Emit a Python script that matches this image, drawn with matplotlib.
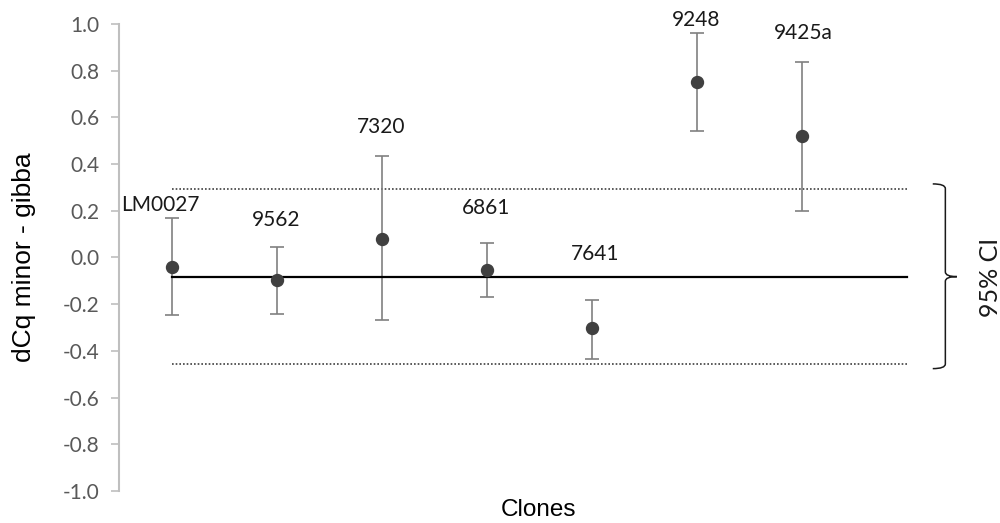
import matplotlib
matplotlib.use("Agg")
import matplotlib.pyplot as plt
from matplotlib.path import Path
from matplotlib.patches import PathPatch
import numpy as np

clones = ["LM0027", "9562", "7320", "6861", "7641", "9248", "9425a"]
values = [-0.04, -0.095, 0.08, -0.055, -0.30, 0.75, 0.52]
err_top = [0.17, 0.045, 0.436, 0.06, -0.182, 0.96, 0.836]
err_bottom = [-0.245, -0.24, -0.268, -0.168, -0.433, 0.54, 0.20]
mean_value = -0.082
ci_upper = 0.295
ci_lower = -0.456

yticks = [-1.0, -0.8, -0.6, -0.4, -0.2, 0.0, 0.2, 0.4, 0.6, 0.8, 1.0]

# label layout (x offset in category units, y position in data units)
label_dx = [-0.11, 0, 0, 0, 0.03, 0, 0.02]
label_y = [0.225, 0.16, 0.559, 0.212, 0.015, 1.017, 0.961]

fig = plt.figure(figsize=(10, 5.23), dpi=100)
ax = fig.add_axes([0.119, 0.0612, 0.84, 0.893])

x = np.arange(1, len(clones) + 1)
vals = np.array(values)
lo = vals - np.array(err_bottom)
hi = np.array(err_top) - vals

ax.errorbar(x, vals, yerr=[lo, hi], fmt='none', ecolor='#808080',
            elinewidth=1.2, capsize=4.7, capthick=1.2, zorder=2)
ax.plot(x, vals, 'o', color='#404040', markersize=8.6, zorder=4)

xl = [1, len(clones) + 1]
ax.plot(xl, [mean_value, mean_value], color='black', lw=1.6, zorder=3)
ax.plot(xl, [ci_upper, ci_upper], color='#404040', lw=1.2, ls=(0, (1, 1.2)), zorder=1)
ax.plot(xl, [ci_lower, ci_lower], color='#404040', lw=1.2, ls=(0, (1, 1.2)), zorder=1)

for i, name in enumerate(clones):
    ax.text(x[i] + label_dx[i], label_y[i], name, ha='center', va='center',
            fontsize=15, family='Lato', color='#1a1a1a')

ax.set_xlim(0.5, len(clones) + 1.5)
ax.set_ylim(-1.0, 1.0)
ax.set_yticks(yticks)
ax.set_yticklabels([f"{t:.1f}" for t in yticks], fontsize=15, family='Lato', color='#595959')
ax.tick_params(axis='y', length=6, width=1.2, color='#bfbfbf', direction='out', pad=8)
ax.set_xticks([])
for s in ['top', 'right', 'bottom']:
    ax.spines[s].set_visible(False)
ax.spines['left'].set_color('#bfbfbf')
ax.spines['left'].set_linewidth(1.5)

ax.set_ylabel("dCq minor - gibba", fontsize=19, family='Liberation Sans', labelpad=19)
ax.set_xlabel("Clones", fontsize=17.5, family='Liberation Sans', labelpad=6)

# curly brace for 95% CI
mid = mean_value
xa, xb, xc = 8.25, 8.37, 8.48
dy = 0.02
verts = [(xa, ci_upper + dy), (xb, ci_upper + dy), (xb, ci_upper), (xb, ci_upper - dy),
         (xb, mid + dy), (xb, mid), (xc, mid),
         (xb, mid), (xb, mid - dy), (xb, ci_lower + dy), (xb, ci_lower), (xb, ci_lower - dy),
         (xa, ci_lower - dy)]
codes = [Path.MOVETO, Path.CURVE3, Path.CURVE3, Path.LINETO,
         Path.LINETO, Path.CURVE3, Path.CURVE3,
         Path.CURVE3, Path.CURVE3, Path.LINETO, Path.LINETO, Path.CURVE3, Path.CURVE3]
brace = PathPatch(Path(verts, codes), fill=False, edgecolor='#1a1a1a', lw=1.1, clip_on=False)
ax.add_patch(brace)

fig.text(0.99, 0.47, "95% CI", rotation=90, ha='center', va='center',
         fontsize=18, family='Lato', color='#1a1a1a')

fig.savefig("out.png", dpi=100)
